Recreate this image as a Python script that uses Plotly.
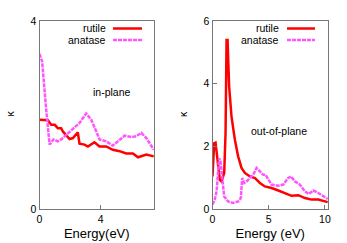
import plotly.graph_objects as go

# ---- data: in-plane (left panel) ----
ip_rutile_E = [0.0, 0.55, 0.77, 1.0, 1.2, 1.42, 1.53, 1.75, 1.97, 2.19, 2.51, 2.62, 2.95, 3.17, 3.6, 3.93, 4.37, 4.8, 5.25, 5.68, 6.12, 6.45, 7.0, 7.48]
ip_rutile_k = [1.90, 1.89, 1.79, 1.79, 1.72, 1.72, 1.65, 1.58, 1.49, 1.51, 1.63, 1.39, 1.37, 1.33, 1.42, 1.33, 1.33, 1.26, 1.23, 1.18, 1.18, 1.10, 1.16, 1.12]
ip_anatase_E = [0.0, 0.17, 0.44, 0.66, 0.92, 1.2, 1.42, 1.75, 2.19, 2.62, 3.06, 3.39, 3.72, 3.93, 4.37, 4.8, 5.14, 5.57, 6.01, 6.34, 6.67, 7.0, 7.48]
ip_anatase_k = [3.30, 3.14, 2.11, 1.37, 1.48, 1.44, 1.48, 1.58, 1.72, 1.83, 2.03, 1.90, 1.65, 1.48, 1.44, 1.35, 1.44, 1.56, 1.53, 1.55, 1.62, 1.51, 1.26]

# ---- data: out-of-plane (right panel) ----
op_rutile_E = [0.0, 0.15, 0.27, 0.45, 0.65, 0.8, 1.04, 1.16, 1.25, 1.34, 1.48, 1.69, 1.99, 2.28, 2.58, 2.88, 3.32, 3.77, 4.21, 4.66, 5.25, 5.85, 6.44, 7.03, 7.63, 8.22, 8.81, 9.41, 10.24]
op_rutile_k = [1.04, 2.10, 2.12, 1.57, 0.93, 0.88, 1.15, 2.42, 5.39, 5.39, 3.91, 2.95, 2.21, 1.68, 1.31, 1.15, 1.04, 0.99, 0.83, 0.72, 0.67, 0.59, 0.51, 0.42, 0.44, 0.35, 0.30, 0.30, 0.22]
op_anatase_E = [0.0, 0.2, 0.36, 0.5, 0.59, 0.71, 0.86, 1.04, 1.39, 1.84, 2.28, 2.52, 2.64, 2.82, 3.03, 3.32, 3.62, 3.92, 4.21, 4.51, 4.72, 4.96, 5.25, 5.85, 6.29, 6.74, 6.97, 7.33, 7.77, 8.22, 8.58, 8.96, 9.41, 10.24]
op_anatase_k = [0.14, 0.30, 0.56, 1.15, 1.62, 1.52, 0.93, 0.40, 0.24, 0.19, 0.24, 0.35, 0.99, 0.83, 0.88, 0.99, 1.09, 1.31, 1.20, 1.09, 1.09, 0.93, 0.78, 0.74, 0.78, 0.99, 1.04, 0.88, 0.78, 0.56, 0.48, 0.59, 0.51, 0.32]

series_names = ["rutile", "anatase"]
panel_labels = ["in-plane", "out-of-plane"]
x_titles = ["Energy(eV)", "Energy (eV)"]
y_title = "κ"
left_xticks = [0, 4]
left_yticks = [0, 4]
right_xticks = [0, 5, 10]
right_yticks = [0, 2, 4, 6]

W, H = 347, 243
FONT = "Liberation Sans, Arial, sans-serif"
FS = 10.5
RED = "#ff0000"
MAG = "#ff55ff"

def px(x):
    return x / W

def py(y):
    return 1 - y / H

fig = go.Figure()
fig.add_trace(go.Scatter(x=ip_rutile_E, y=ip_rutile_k, mode="lines", name=series_names[0],
                         line=dict(color=RED, width=2.5), xaxis="x", yaxis="y", showlegend=False))
fig.add_trace(go.Scatter(x=ip_anatase_E, y=ip_anatase_k, mode="lines", name=series_names[1],
                         line=dict(color=MAG, width=2.5, dash="4px,1px"), xaxis="x", yaxis="y", showlegend=False))
fig.add_trace(go.Scatter(x=op_rutile_E, y=op_rutile_k, mode="lines", name=series_names[0],
                         line=dict(color=RED, width=2.5), xaxis="x2", yaxis="y2", showlegend=False))
fig.add_trace(go.Scatter(x=op_anatase_E, y=op_anatase_k, mode="lines", name=series_names[1],
                         line=dict(color=MAG, width=2.5, dash="4px,1px"), xaxis="x2", yaxis="y2", showlegend=False))

axis_common = dict(showgrid=False, zeroline=False, showline=True, mirror=True,
                   linecolor="#777777", linewidth=1, ticks="inside", ticklen=4,
                   tickcolor="#777777", automargin=False,
                   tickfont=dict(family=FONT, size=FS, color="#000"))

fig.update_layout(
    width=W, height=H,
    margin=dict(l=0, r=0, t=0, b=0, pad=0),
    paper_bgcolor="white", plot_bgcolor="white",
    font=dict(family=FONT, size=FS, color="#000"),
    xaxis=dict(domain=[px(39.5), px(154)], range=[0, 7.5], tickvals=left_xticks,
               title=dict(text=x_titles[0], standoff=5), anchor="y", **axis_common),
    yaxis=dict(domain=[py(209), py(21)], range=[0, 4], tickvals=left_yticks,
               anchor="x", **axis_common),
    xaxis2=dict(domain=[px(212.5), px(328)], range=[0, 10.27], tickvals=right_xticks,
                title=dict(text=x_titles[1], standoff=5), anchor="y2", **axis_common),
    yaxis2=dict(domain=[py(209), py(21)], range=[0, 6], tickvals=right_yticks,
                anchor="x2", **axis_common),
)

# y-axis titles (kappa)
for xc in (9.5, 183):
    fig.add_annotation(x=px(xc), y=py(114), xref="paper", yref="paper", text=y_title,
                       showarrow=False, textangle=-90, xanchor="center", yanchor="middle",
                       font=dict(family=FONT, size=FS))

# panel labels
fig.add_annotation(x=4.72, y=2.49, xref="x", yref="y", text=panel_labels[0], showarrow=False,
                   font=dict(family=FONT, size=FS))
fig.add_annotation(x=5.9, y=2.49, xref="x2", yref="y2", text=panel_labels[1], showarrow=False,
                   font=dict(family=FONT, size=FS))

# legends (gnuplot style: text right-aligned, sample line to the right)
legend_specs = [
    (107, 113, 142),
    (280, 287, 315),
]
legend_rows = [(series_names[0], 28.5, dict(color=RED, width=2.5)),
               (series_names[1], 40, dict(color=MAG, width=2.5, dash="4px,1px"))]
for text_right, lx0, lx1 in legend_specs:
    for name, yrow, lstyle in legend_rows:
        fig.add_annotation(x=px(text_right), y=py(yrow), xref="paper", yref="paper",
                           text=name, showarrow=False, xanchor="right", yanchor="middle",
                           borderpad=0, font=dict(family=FONT, size=FS))
        fig.add_shape(type="line", xref="paper", yref="paper",
                      x0=px(lx0), x1=px(lx1), y0=py(yrow), y1=py(yrow), line=lstyle)

fig.write_html("out.html", config={"displayModeBar": False},
               post_script="document.body.style.margin='0';document.body.style.overflow='hidden';")
